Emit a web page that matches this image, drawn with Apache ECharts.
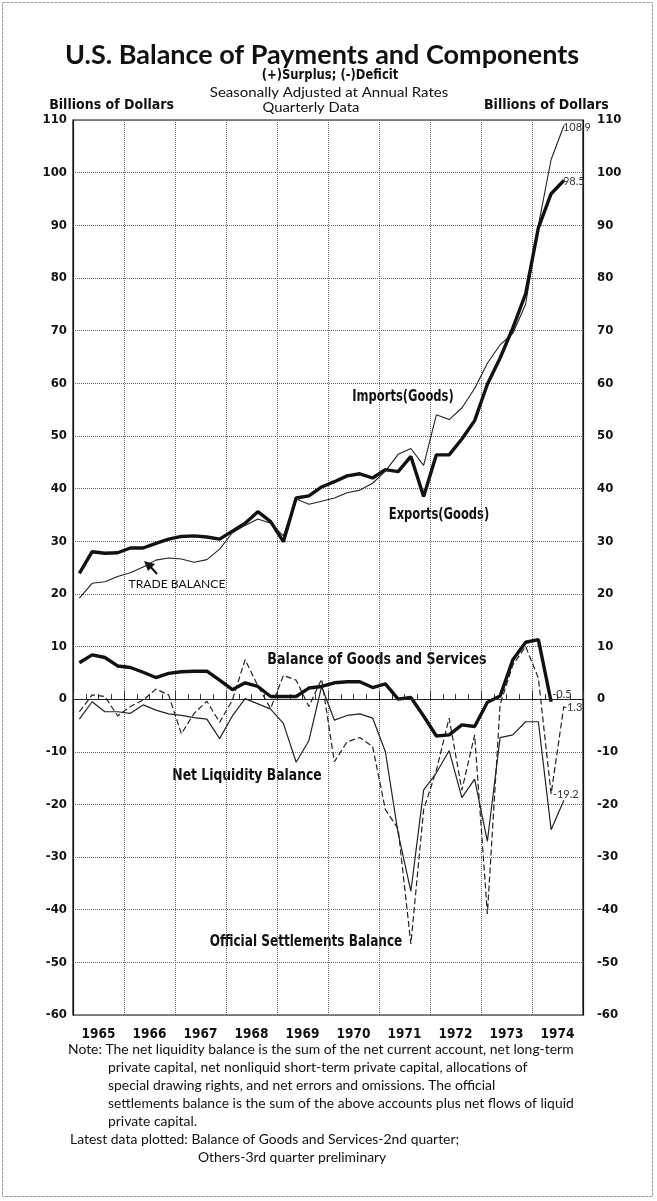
<!DOCTYPE html>
<html><head><meta charset="utf-8">
<script src="https://cdn.jsdelivr.net/npm/echarts@6/dist/echarts.min.js"></script>
<style>html,body{margin:0;padding:0;background:#fff}#c{width:657px;height:1201px}</style>
</head><body><div id="c"></div>
<script>
// ---- data ----
const years = ['1965','1966','1967','1968','1969','1970','1971','1972','1973','1974'];
const quarterNames = ['Q1','Q2','Q3','Q4'];
const quarters = [];
years.forEach(y => quarterNames.forEach(q => quarters.push(y + q)));

// Exports (goods), 1965Q1 - 1974Q3, billions of dollars, SAAR
const exportsGoods = [23.9, 28.0, 27.7, 27.8, 28.7, 28.7, 29.6, 30.4, 30.9, 31.0,
  30.8, 30.4, 31.9, 33.4, 35.6, 33.7, 29.9, 38.2, 38.6, 40.3,
  41.3, 42.4, 42.8, 42.0, 43.6, 43.2, 46.1, 38.5, 46.4, 46.4,
  49.4, 52.9, 59.8, 64.8, 70.5, 77.0, 89.5, 96.0, 98.5];
// Imports (goods)
const importsGoods = [19.2, 22.0, 22.3, 23.3, 24.0, 25.1, 26.4, 26.8, 26.6, 26.0,
  26.5, 28.5, 31.6, 33.0, 34.2, 33.4, 31.0, 38.0, 37.0, 37.6,
  38.2, 39.2, 39.7, 41.0, 43.3, 46.5, 47.6, 44.4, 54.0, 53.1,
  55.3, 59.0, 63.8, 67.3, 69.5, 75.0, 90.0, 102.5, 108.9];
// Balance of goods and services, 1965Q1 - 1974Q2
const goodsServices = [6.9, 8.4, 7.9, 6.3, 6.0, 5.1, 4.1, 4.9, 5.2, 5.3,
  5.3, 3.6, 1.8, 3.1, 2.4, 0.5, 0.5, 0.5, 2.1, 2.4,
  3.1, 3.3, 3.3, 2.2, 2.9, 0.0, 0.3, -3.2, -7.0, -6.8,
  -4.9, -5.2, -0.6, 0.6, 7.5, 10.8, 11.3, -0.5];
// Net liquidity balance
const netLiquidity = [-3.8, -0.5, -2.4, -2.4, -2.7, -1.1, -2.1, -2.8, -3.1, -3.5,
  -3.8, -7.5, -3.2, 0.1, -0.9, -1.9, -4.6, -12.0, -7.9, 2.4,
  -4.0, -3.1, -2.8, -3.6, -10.0, -25.5, -36.5, -17.3, -14.0, -9.8,
  -18.7, -15.2, -27.0, -7.3, -6.8, -4.3, -4.3, -24.8, -19.2];
// Official settlements balance
const officialSettlements = [-2.4, 0.8, 0.5, -3.2, -1.4, -0.2, 1.9, 0.8, -6.6, -2.7,
  -0.4, -4.4, -0.2, 7.5, 2.5, -1.8, 4.5, 3.6, -1.4, 3.8,
  -11.9, -8.1, -7.3, -9.0, -21.0, -24.6, -46.5, -21.0, -13.5, -3.6,
  -17.3, -6.8, -40.8, -1.0, 6.5, 10.0, 4.0, -18.0, -1.3];

const yMin = -60, yMax = 110, yStep = 10;

// ---- styles ----
const NARROW = "'Liberation Sans Narrow','DejaVu Sans Condensed','Arial Narrow',sans-serif";
const GEO = "Lato,'Noto Sans',sans-serif";
const INK = '#111';

const chart = echarts.init(document.getElementById('c'), null, {renderer: 'canvas'});

function txt(text, x, y, font, align, sx) {
  return {
    type: 'text', x: x, y: y, silent: true, scaleX: sx || 1,
    style: {text: text, font: font, fill: INK, align: align || 'center', verticalAlign: 'middle',
            textAlign: align || 'center', textVerticalAlign: 'middle'}
  };
}

const yAxisCommon = {
  type: 'value', min: yMin, max: yMax, interval: yStep,
  axisLine: {show: true, lineStyle: {color: INK, width: 1.2}},
  axisTick: {show: false},
  axisLabel: {color: INK, fontFamily: NARROW, fontWeight: 'bold', fontSize: 13}
};

const noteFont = "13px " + GEO;
const noteSX = 1.07;
const seriesFont = "bold 16px " + NARROW;
const seriesSX = 0.84;

chart.setOption({
  animation: false,
  backgroundColor: '#fff',
  grid: {left: 73, right: 74, top: 120, bottom: 186, show: true, borderColor: INK, borderWidth: 1.2, backgroundColor: 'transparent'},
  xAxis: [
    {type: 'category', data: quarters, boundaryGap: true, position: 'bottom',
     axisLine: {show: true, lineStyle: {color: INK, width: 1.2}},
     axisTick: {show: true, inside: true, length: 5, interval: 0, lineStyle: {color: '#333'}},
     axisLabel: {show: false},
     splitLine: {show: true, interval: (i) => i % 4 === 0, lineStyle: {type: 'dotted', color: '#666', width: 1}}},
    {type: 'category', data: years, boundaryGap: true, position: 'bottom',
     axisLine: {show: false}, axisTick: {show: true, inside: true, length: 8, interval: 0, lineStyle: {color: '#333'}},
     splitLine: {show: false},
     axisLabel: {interval: 0, color: INK, fontFamily: NARROW, fontWeight: 'bold', fontSize: 13.5, margin: 12}}
  ],
  yAxis: [
    Object.assign({}, yAxisCommon, {position: 'left',
      axisLabel: Object.assign({}, yAxisCommon.axisLabel, {margin: 6}),
      splitLine: {show: true, lineStyle: {type: 'dotted', color: '#666', width: 1}}}),
    Object.assign({}, yAxisCommon, {position: 'right',
      axisLabel: Object.assign({}, yAxisCommon.axisLabel, {margin: 14}),
      splitLine: {show: false}})
  ],
  series: [
    {name: 'Imports(Goods)', type: 'line', data: importsGoods, symbol: 'none', z: 3,
     lineStyle: {color: '#222', width: 1.1},
     endLabel: {show: true, formatter: p => String(p.value), fontFamily: GEO, fontSize: 11, color: '#333', distance: 2, offset: [-3, 2]}},
    {name: 'Exports(Goods)', type: 'line', data: exportsGoods, symbol: 'none', z: 4,
     lineStyle: {color: INK, width: 3.4},
     endLabel: {show: true, formatter: p => String(p.value), fontFamily: GEO, fontSize: 11, color: '#333', distance: 2, offset: [-3, 1]}},
    {name: 'Balance of Goods and Services', type: 'line', data: goodsServices, symbol: 'none', z: 4,
     lineStyle: {color: INK, width: 3.4},
     endLabel: {show: true, formatter: p => String(p.value), fontFamily: GEO, fontSize: 11, color: '#333', distance: 2, offset: [-1, -7]},
     markLine: {silent: true, symbol: ['none', 'none'], label: {show: false},
                lineStyle: {type: 'solid', color: '#222', width: 1.2}, data: [{yAxis: 0}]}},
    {name: 'Net Liquidity Balance', type: 'line', data: netLiquidity, symbol: 'none', z: 3,
     lineStyle: {color: '#222', width: 1.2},
     endLabel: {show: true, formatter: p => String(p.value), fontFamily: GEO, fontSize: 11, color: '#333', distance: 2, offset: [-13, -6]}},
    {name: 'Official Settlements Balance', type: 'line', data: officialSettlements, symbol: 'none', z: 3,
     lineStyle: {color: '#222', width: 1.2, type: [6, 3]},
     endLabel: {show: true, formatter: p => String(p.value), fontFamily: GEO, fontSize: 11, color: '#333', distance: 2, offset: [-3, 1]}}
  ],
  graphic: [
    {type: 'rect', silent: true, shape: {x: 2.5, y: 2.5, width: 650, height: 1194},
     style: {fill: 'none', stroke: '#999', lineWidth: 1, lineDash: [3, 1]}},
    txt('U.S. Balance of Payments and Components', 322, 55, "bold 27px " + GEO),
    txt('(+)Surplus; (-)Deficit', 330, 75, "bold 14px " + NARROW, 'center', 0.92),
    txt('Seasonally Adjusted at Annual Rates', 329, 93, "12.5px " + GEO, 'center', 1.2),
    txt('Quarterly Data', 311, 108, "12.5px " + GEO, 'center', 1.18),
    txt('Billions of Dollars', 174, 105, "bold 14px " + NARROW, 'right'),
    txt('Billions of Dollars', 484, 105, "bold 14px " + NARROW, 'left'),
    txt('Imports(Goods)', 403, 397, seriesFont, 'center', 0.8),
    txt('Exports(Goods)', 439, 515, seriesFont, 'center', 0.8),
    txt('TRADE BALANCE', 177, 584, "11px " + GEO, 'center', 1.1),
    {type: 'polygon', silent: true, shape: {points: [[144, 561], [155, 564], [148, 571]]}, style: {fill: INK}},
    {type: 'line', silent: true, shape: {x1: 149, y1: 565, x2: 157, y2: 574}, style: {stroke: INK, lineWidth: 2}},
    txt('Balance of Goods and Services', 377, 660, seriesFont, 'center', 0.88),
    txt('Net Liquidity Balance', 247, 776, seriesFont, 'center', 0.86),
    txt('Official Settlements Balance', 306, 942, seriesFont, 'center', 0.84),
    txt('Note: The net liquidity balance is the sum of the net current account, net long-term', 68, 1050, noteFont, 'left', noteSX),
    txt('private capital, net nonliquid short-term private capital, allocations of', 108, 1068, noteFont, 'left', noteSX),
    txt('special drawing rights, and net errors and omissions. The official', 108, 1086, noteFont, 'left', noteSX),
    txt('settlements balance is the sum of the above accounts plus net flows of liquid', 108, 1104, noteFont, 'left', noteSX),
    txt('private capital.', 108, 1122, noteFont, 'left', noteSX),
    txt('Latest data plotted: Balance of Goods and Services-2nd quarter;', 70, 1140, noteFont, 'left', noteSX),
    txt('Others-3rd quarter preliminary', 198, 1158, noteFont, 'left', noteSX)
  ]
});
</script>
</body></html>
